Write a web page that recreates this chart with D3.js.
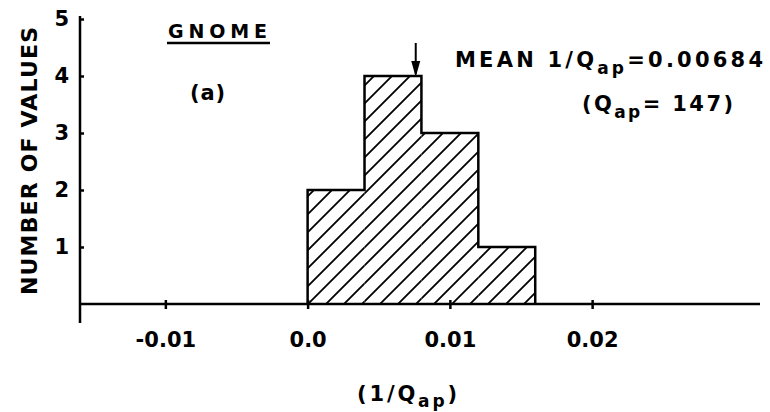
<!DOCTYPE html>
<html>
<head>
<meta charset="utf-8">
<script src="https://cdn.jsdelivr.net/npm/d3@7"></script>
<style>
  body { margin: 0; background: #fff; }
  svg text { font-family: "DejaVu Sans", sans-serif; font-weight: bold; fill: #000; }
</style>
</head>
<body>
<div id="chart"></div>
<script>
// histogram data
var binEdges = [0.000, 0.004, 0.008, 0.012, 0.016];
var counts = [2, 4, 3, 1];
var xTicks = [-0.01, 0.0, 0.01, 0.02];
var xTickLabels = ["-0.01", "0.0", "0.01", "0.02"];
var yTicks = [1, 2, 3, 4, 5];
var meanMark = 0.0076; // where the arrow sits in the picture

var W = 770, H = 412;
var svg = d3.select("#chart").append("svg")
	.attr("width", W)
	.attr("height", H);

var x = d3.scaleLinear().domain([-0.016, 0.0318]).range([80, 760]);
var y = d3.scaleLinear().domain([0, 5]).range([304, 19]);

// hatch pattern
var defs = svg.append("defs");
defs.append("pattern")
	.attr("id", "hatch")
	.attr("patternUnits", "userSpaceOnUse")
	.attr("width", 18)
	.attr("height", 18)
	.append("path")
		.attr("d", "M-4.5,4.5 L4.5,-4.5 M0,18 L18,0 M13.5,22.5 L22.5,13.5")
		.attr("stroke", "#000")
		.attr("stroke-width", 1.8);

var bins = counts.map(function(c, i) { return {x0: binEdges[i], x1: binEdges[i + 1], n: c}; });

svg.selectAll("rect.bin")
	.data(bins)
	.enter()
	.append("rect")
		.attr("class", "bin")
		.attr("x", function(d) { return x(d.x0); })
		.attr("y", function(d) { return y(d.n); })
		.attr("width", function(d) { return x(d.x1) - x(d.x0); })
		.attr("height", function(d) { return y(0) - y(d.n); })
		.style("fill", "url(#hatch)");

// step outline of the histogram
var pts = [[binEdges[0], 0]];
bins.forEach(function(d) { pts.push([d.x0, d.n]); pts.push([d.x1, d.n]); });
pts.push([binEdges[binEdges.length - 1], 0]);
svg.append("path")
	.attr("d", d3.line().x(function(d) { return x(d[0]); }).y(function(d) { return y(d[1]); })(pts))
	.attr("fill", "none")
	.attr("stroke", "#000")
	.attr("stroke-width", 2.5);

// x axis
var xAxis = svg.append("g")
	.attr("transform", "translate(0," + y(0) + ")")
	.call(d3.axisBottom(x).tickValues(xTicks).tickSize(4).tickPadding(24)
		.tickFormat(function(d, i) { return xTickLabels[i]; }));
xAxis.select(".domain").remove();
xAxis.selectAll(".tick line").attr("y1", -4).attr("y2", 5).attr("stroke-width", 2.5);
xAxis.selectAll(".tick text").style("font-size", "21px").attr("fill", "#000");
xAxis.append("line")
	.attr("x1", x.range()[0]).attr("x2", x.range()[1])
	.attr("stroke", "#000").attr("stroke-width", 2.5);

// y axis
var yAxis = svg.append("g")
	.attr("transform", "translate(" + x.range()[0] + ",0)")
	.call(d3.axisLeft(y).tickValues(yTicks).tickSizeInner(-4).tickSizeOuter(0).tickPadding(11)
		.tickFormat(d3.format("d")));
yAxis.select(".domain").remove();
yAxis.selectAll(".tick line").attr("stroke-width", 2.5);
yAxis.selectAll(".tick text").style("font-size", "21px").attr("fill", "#000");
yAxis.append("line")
	.attr("y1", 16).attr("y2", 323)
	.attr("stroke", "#000").attr("stroke-width", 2.5);

// axis titles
svg.append("text")
	.attr("transform", "translate(37,161) rotate(-90)")
	.attr("text-anchor", "middle")
	.attr("textLength", 268)
	.attr("lengthAdjust", "spacing")
	.style("font-size", "22px")
	.text("NUMBER OF VALUES");

var xt = svg.append("text")
	.attr("x", 357).attr("y", 401)
	.attr("textLength", 100)
	.attr("lengthAdjust", "spacing")
	.style("font-size", "21px");
xt.append("tspan").text("(1/Q");
xt.append("tspan").attr("dy", 6).style("font-size", "17px").text("ap");
xt.append("tspan").attr("dy", -6).text(")");

// labels
svg.append("text")
	.attr("x", 168).attr("y", 38)
	.attr("textLength", 99)
	.attr("lengthAdjust", "spacing")
	.style("font-size", "19px")
	.text("GNOME");
svg.append("line")
	.attr("x1", 167).attr("x2", 270).attr("y1", 43).attr("y2", 43)
	.attr("stroke", "#000").attr("stroke-width", 2.5);

svg.append("text")
	.attr("x", 190).attr("y", 100)
	.attr("textLength", 35)
	.attr("lengthAdjust", "spacing")
	.style("font-size", "21px")
	.text("(a)");

var mt = svg.append("text")
	.attr("x", 455).attr("y", 67)
	.attr("textLength", 308)
	.attr("lengthAdjust", "spacing")
	.style("font-size", "21px");
mt.append("tspan").text("MEAN  1/Q");
mt.append("tspan").attr("dy", 7).style("font-size", "17px").text("ap");
mt.append("tspan").attr("dy", -7).text("=0.00684");

var qt = svg.append("text")
	.attr("x", 582).attr("y", 111)
	.attr("textLength", 151)
	.attr("lengthAdjust", "spacing")
	.style("font-size", "21px");
qt.append("tspan").text("(Q");
qt.append("tspan").attr("dy", 7).style("font-size", "17px").text("ap");
qt.append("tspan").attr("dy", -7).text("= 147)");

// arrow marking the mean
var ax = x(meanMark);
svg.append("line")
	.attr("x1", ax).attr("x2", ax).attr("y1", 43).attr("y2", y(4) - 2)
	.attr("stroke", "#000").attr("stroke-width", 2);
svg.append("path")
	.attr("d", "M" + (ax - 4.5) + "," + (y(4) - 15) + " L" + (ax + 4.5) + "," + (y(4) - 15) + " L" + ax + "," + (y(4) + 1) + " Z")
	.attr("fill", "#000");
</script>
</body>
</html>
